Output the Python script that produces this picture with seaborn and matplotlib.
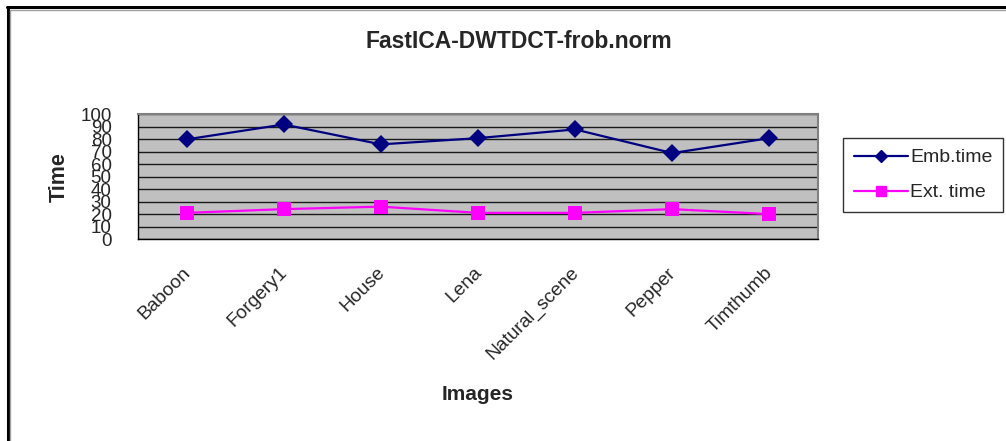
import matplotlib
matplotlib.use("Agg")
import matplotlib.pyplot as plt
from matplotlib.lines import Line2D
from matplotlib.transforms import ScaledTranslation
import seaborn as sns
import pandas as pd

images = ["Baboon", "Forgery1", "House", "Lena", "Natural_scene", "Pepper", "Timthumb"]
emb_time = [80, 92, 76, 81, 88, 69, 81]
ext_time = [21, 24, 26, 21, 21, 24, 20]
series_names = ["Emb.time", "Ext. time"]
y_ticks = list(range(0, 101, 10))

df = pd.DataFrame({
    "Images": images * 2,
    "Time": emb_time + ext_time,
    "series": [series_names[0]] * len(images) + [series_names[1]] * len(images),
})
df["pos"] = list(range(len(images))) * 2

sns.set_style("white")
plt.rcParams["font.family"] = ["Liberation Sans", "DejaVu Sans"]

fig = plt.figure(figsize=(10.06, 4.41), dpi=100)
ax = fig.add_axes([0.1372, 0.458, 0.6759, 0.2824])
ax.set_facecolor("#C0C0C0")

sns.lineplot(
    data=df, x="pos", y="Time", hue="series", style="series",
    palette={"Emb.time": "#000080", "Ext. time": "#FF00FF"},
    markers={"Emb.time": "D", "Ext. time": "s"}, dashes=False,
    markersize=9.5, linewidth=1.6, markeredgewidth=0, ax=ax, legend=False,
)

ax.set_xlim(-0.5, len(images) - 0.5)
ax.set_ylim(0, 100)
ax.set_yticks(y_ticks)
ax.set_yticklabels([str(v) for v in y_ticks], fontsize=13.5)
ax.set_xticks(range(len(images)))
ax.set_xticklabels(images, rotation=45, ha="right", rotation_mode="anchor", fontsize=13.8)
ax.set_xticks([i - 0.5 for i in range(len(images) + 1)], minor=True)
ax.tick_params(axis="x", which="major", length=0, pad=18)
ax.tick_params(axis="x", which="minor", length=6, width=1, color="black", direction="out")
ax.tick_params(axis="y", length=7, width=1, color="black", direction="out", pad=12)
ax.yaxis.grid(True, color="#1a1a1a", linewidth=1)
ax.set_axisbelow(True)

# nudge the slanted category labels slightly to the left
shift = ScaledTranslation(-5 / 100, 0, fig.dpi_scale_trans)
for lbl in ax.get_xticklabels():
    lbl.set_transform(lbl.get_transform() + shift)

for side in ["left", "bottom"]:
    ax.spines[side].set_color("black")
    ax.spines[side].set_linewidth(1)
for side in ["top", "right"]:
    ax.spines[side].set_color("#808080")
    ax.spines[side].set_linewidth(1.5)

ax.set_xlabel("Images", fontsize=15, fontweight="bold")
ax.set_ylabel("Time", fontsize=15.5, fontweight="bold")
ax.xaxis.set_label_coords(0.5, -1.17)
ax.yaxis.set_label_coords(-0.101, 0.5)

fig.text(0.516, 0.905, "FastICA-DWTDCT-frob.norm", ha="center", va="center",
         fontsize=16.5, fontweight="bold")

handles = [
    Line2D([], [], color="#000080", marker="D", markersize=6.5, linewidth=1.6),
    Line2D([], [], color="#FF00FF", marker="s", markersize=7.5, linewidth=1.6),
]
leg = fig.legend(handles, series_names, loc="center", bbox_to_anchor=(0.9175, 0.603),
                 fontsize=14, frameon=True, fancybox=False, edgecolor="black",
                 handlelength=2.8, labelspacing=0.9, borderpad=0.55, handletextpad=0.1,
                 borderaxespad=0)
leg.get_frame().set_linewidth(1)

# outer frame along the top and left edges
fig.add_artist(Line2D([0.0065, 1.0], [0.983, 0.983], color="black", linewidth=2.2,
                      transform=fig.transFigure))
fig.add_artist(Line2D([0.0075, 0.0075], [0.0, 0.984], color="black", linewidth=2.2,
                      transform=fig.transFigure))
fig.add_artist(Line2D([0.0095, 1.0], [0.978, 0.978], color="#a0a0a0", linewidth=1,
                      transform=fig.transFigure))
fig.add_artist(Line2D([0.0095, 0.0095], [0.0, 0.978], color="#a0a0a0", linewidth=1,
                      transform=fig.transFigure))

fig.savefig("out.png", dpi=100)
